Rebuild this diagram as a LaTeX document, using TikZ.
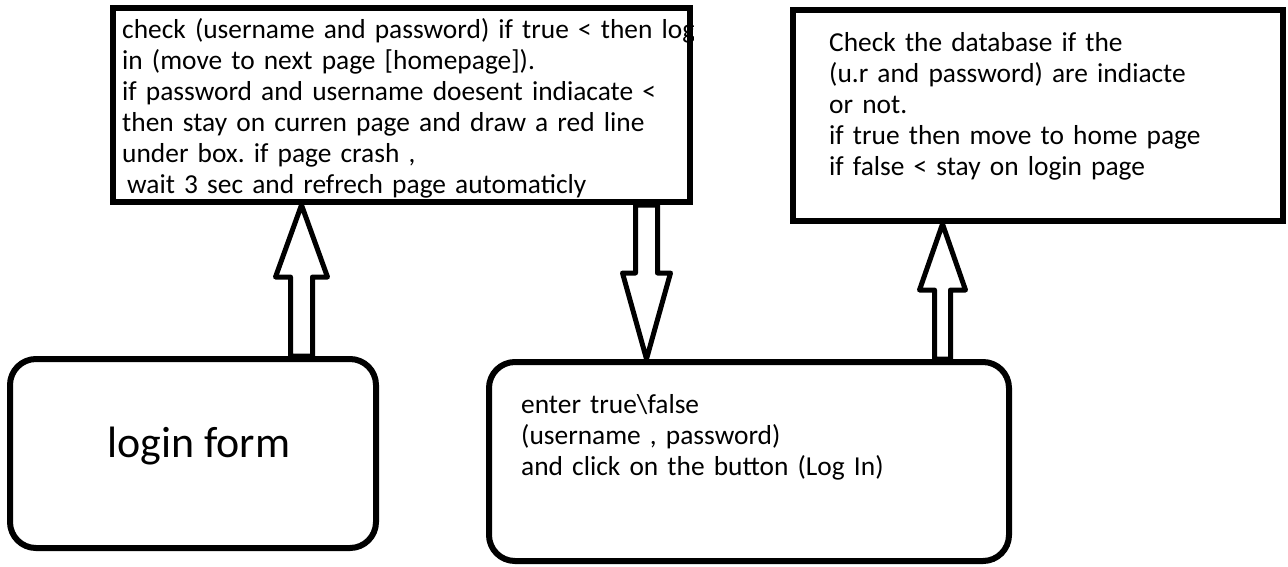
\documentclass[tikz,border=0pt]{standalone}
\usepackage{fontspec}
\setmainfont{Carlito}
\usetikzlibrary{calc}

\tikzset{
  shaft/.store in=\shafthw, shaft=11pt,
  headw/.store in=\headhw, headw=26pt,
  headl/.store in=\headlen, headl=70pt,
  % hollow block arrow from the start point to the tip
  blockarrow/.style={draw=black, line width=5pt, line join=round, fill=white,
    to path={
      let \p1=(\tikztostart), \p2=(\tikztotarget),
          \n1={\y2-ifthenelse(\y2>\y1,1,-1)*\headlen} in
      ({\x1-\shafthw},\y1) -- ({\x1-\shafthw},{\n1*1pt})
      -- ({\x1-\headhw},{\n1*1pt}) -- (\x2,\y2)
      -- ({\x1+\headhw},{\n1*1pt}) -- ({\x1+\shafthw},{\n1*1pt})
      -- ({\x1+\shafthw},\y1) -- cycle}},
  sqbox/.style={draw=black, line width=6pt, rectangle, inner sep=0pt, fill=white},
  rbox/.style={sqbox, rounded corners=26pt},
  body/.style={inner sep=0pt, anchor=base west, align=left,
    font=\fontsize{27.4}{31}\selectfont\frenchspacing},
}

\begin{document}
\begin{tikzpicture}[x=1pt, y=-1pt]
\useasboundingbox (0,0) rectangle (1288,566);
\fill[white] (0,0) rectangle (1288,566);

% boxes
\node[sqbox, minimum width=577pt, minimum height=194pt] (check) at (401.5,105) {};
\node[sqbox, minimum width=490pt, minimum height=211pt] (db) at (1038,115.5) {};
\node[rbox, minimum width=366pt, minimum height=189pt] (login) at (193,453.5) {};
\node[rbox, minimum width=520pt, minimum height=199pt] (enter) at (749,461.5) {};

% texts
\begin{scope}
  \clip (check.south west) rectangle (check.north east);
  \node[body, text width=600pt] (checktext) at (122,38)
    {check (username and password) if true < then log\\
     in (move to next page [homepage]).\\
     if password and username doesent indiacate <\\
     then stay on curren page and draw a red line\\
     under box. if page crash ,\\
     \hspace*{5pt}wait 3 sec and refrech page automaticly};
\end{scope}

\node[body, text width=440pt] (dbtext) at (829,51)
  {Check the database if the\\
   (u.r and password) are indiacte\\
   or not.\\
   if true then move to home page\\
   if false < stay on login page};

\node[body, text width=460pt] (entertext) at (521,413)
  {enter true\textbackslash false\\
   (username , password)\\
   and click on the button (Log In)};

\node[inner sep=0pt, anchor=base west, font=\fontsize{43.9}{50}\selectfont]
  (logintext) at (107,457) {login form};

% connectors
\draw[blockarrow, shaft=11pt, headw=26pt, headl=72pt]
  (301.5,0 |- login.north) to (301.5,0 |- check.south);
\draw[blockarrow, shaft=11pt, headw=24pt, headl=86pt]
  (646.5,0 |- check.south) to (646.5,0 |- enter.north);
\draw[blockarrow, shaft=8pt, headw=23pt, headl=66pt]
  (942.5,0 |- enter.north) to (942.5,0 |- db.south);
\end{tikzpicture}
\end{document}
